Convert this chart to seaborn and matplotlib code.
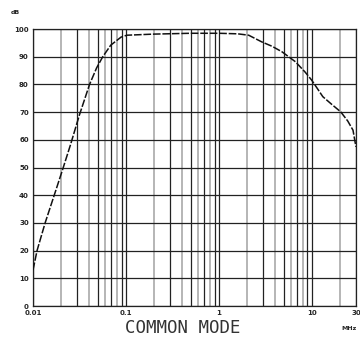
import numpy as np
import matplotlib
matplotlib.use('Agg')
import matplotlib.pyplot as plt
import pandas as pd
import seaborn as sns

# frequency (MHz) vs common mode rejection (dB)
freq_mhz = [0.01, 0.01105, 0.0135, 0.0173, 0.0207, 0.0252, 0.0316, 0.0406, 0.0484, 0.0563,
            0.0687, 0.0886, 0.1024, 0.2, 0.5, 1.0, 1.6, 2.1, 2.9, 3.75, 4.8, 6.7, 8.5, 10.0,
            11.5, 13.2, 16.5, 20.6, 24.5, 27.9, 30.0]
cmr_db = [13, 20, 30, 41, 49, 58, 69, 80, 86, 90,
          94.2, 97.1, 97.8, 98.2, 98.5, 98.5, 98.3, 97.8, 95.4, 93.8, 91.8, 88.2, 84.5, 81.6,
          78.6, 75.6, 72.8, 70.1, 66.8, 63.5, 57.5]

x_ticks = [0.01, 0.1, 1, 10, 30]
x_ticklabels = ['0.01', '0.1', '1', '10', '30']
y_ticks = list(range(0, 101, 10))

df = pd.DataFrame({'f': freq_mhz, 'db': cmr_db})

sns.set_style('white')
plt.rcParams['font.family'] = ['DejaVu Sans']

fig = plt.figure(figsize=(3.6, 3.41), dpi=100)
ax = fig.add_axes([0.0917, 0.1026, 0.897, 0.812])

# grid: decades and odd multipliers dark, even multipliers gray
for dec in [0.01, 0.1, 1, 10]:
    for m in range(1, 10):
        v = dec * m
        if v > 30:
            break
        if m == 1 or m % 2 == 1:
            ax.axvline(v, color='#222222', lw=0.9, zorder=1)
        else:
            ax.axvline(v, color='#b0b0b0', lw=1.3, zorder=1)
for yv in y_ticks:
    ax.axhline(yv, color='#222222', lw=0.9, zorder=1)

sns.lineplot(data=df, x='f', y='db', ax=ax, color='#111111', lw=1.1,
             linestyle=(0, (5, 1.2)), zorder=3)

ax.set_xscale('log')
ax.set_xlim(0.01, 30)
ax.set_ylim(0, 100)
ax.set_xticks(x_ticks)
ax.set_xticklabels(x_ticklabels)
ax.set_xticks([], minor=True)
ax.set_yticks(y_ticks)
ax.tick_params(axis='both', length=0, labelsize=5, pad=3)
for lab in ax.get_xticklabels() + ax.get_yticklabels():
    lab.set_fontweight('bold')
for s in ax.spines.values():
    s.set_color('#222222')
    s.set_linewidth(0.9)
ax.set_xlabel('')
ax.set_ylabel('')

fig.text(15 / 360, 1 - 13 / 341, 'dB', fontsize=4.5, fontweight='bold', ha='center', va='center')
fig.text(349 / 360, 1 - 328 / 341, 'MHz', fontsize=4.5, fontweight='bold', ha='center', va='center')
fig.text(183 / 360, 1 - 328 / 341, 'COMMON MODE', fontsize=12.5, family='DejaVu Sans Mono',
         ha='center', va='center', color='#333333')

fig.savefig('out.png', dpi=100)
